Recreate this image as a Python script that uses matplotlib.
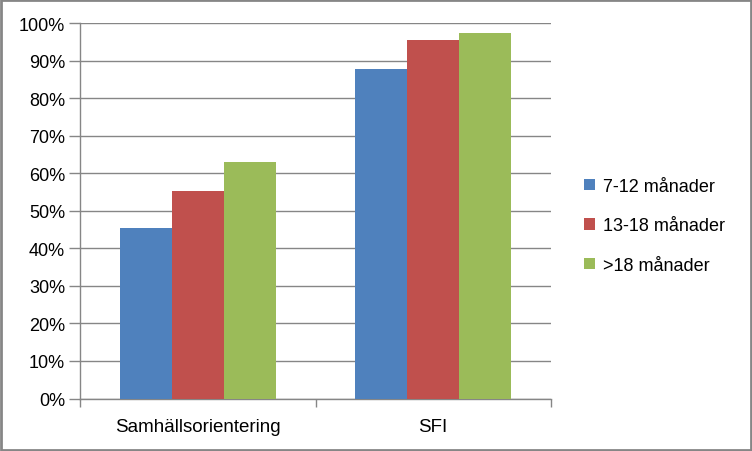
import matplotlib
matplotlib.use("Agg")
import matplotlib.pyplot as plt
import numpy as np
from matplotlib.patches import Rectangle
from matplotlib.ticker import FuncFormatter, FixedLocator

categories = ["Samhällsorientering", "SFI"]
series_names = ["7-12 månader", "13-18 månader", ">18 månader"]
values = {
    "7-12 månader": [45.4, 87.8],
    "13-18 månader": [55.3, 95.5],
    ">18 månader": [63.0, 97.4],
}
colors = ["#4F81BD", "#C0504D", "#9BBB59"]
yticks = list(range(0, 101, 10))

plt.rcParams['font.family'] = ['Liberation Sans', 'DejaVu Sans']

fig = plt.figure(figsize=(7.52, 4.52), dpi=100)
ax = fig.add_axes([80.3/752, 1-399.5/452, (550.7-80.3)/752, (399.5-24.3)/452])

x = np.arange(len(categories))
bw = 0.221
for i, name in enumerate(series_names):
    ax.bar(x + (i-1)*bw, values[name], width=bw, color=colors[i], label=name, zorder=3)

ax.set_xlim(-0.5, 1.5)
ax.set_ylim(0, 100)
ax.set_yticks(yticks)
ax.yaxis.set_major_formatter(FuncFormatter(lambda v, p: f"{int(v)}%"))
ax.grid(axis='y', color='#868686', linewidth=1.0, zorder=0)
ax.set_xticks(x)
ax.set_xticklabels(categories)
ax.xaxis.set_minor_locator(FixedLocator([-0.5, 0.5, 1.5]))
ax.tick_params(axis='x', which='major', length=0, pad=14, labelsize=13.5)
ax.tick_params(axis='x', which='minor', length=6, color='#868686', width=1)
ax.tick_params(axis='y', length=8, color='#868686', width=1, labelsize=13, pad=3)
for s in ['top', 'right']:
    ax.spines[s].set_visible(False)
for s in ['left', 'bottom']:
    ax.spines[s].set_color('#868686')
    ax.spines[s].set_linewidth(1)

ax.legend(loc='center left', bbox_to_anchor=(575/752, 1-227/452), bbox_transform=fig.transFigure,
          frameon=False, fontsize=13, handlelength=0.6, handleheight=0.6, handletextpad=0.45,
          labelspacing=1.25, borderpad=0)

fig.patches.append(Rectangle((0.0015, 0.0025), 0.997, 0.995, transform=fig.transFigure,
                             fill=False, edgecolor='#868686', linewidth=2))

fig.savefig("out.png", dpi=100)
